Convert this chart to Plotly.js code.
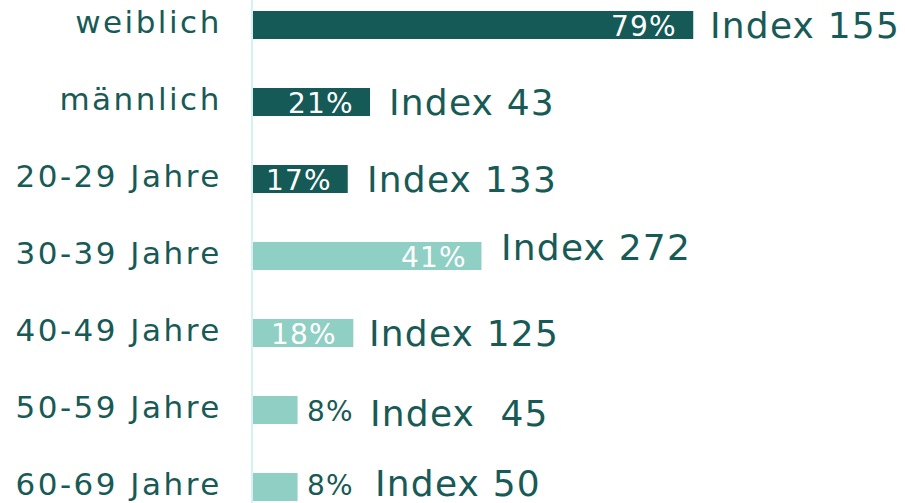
<!DOCTYPE html>
<html><head><meta charset="utf-8">
<script src="https://cdn.plot.ly/plotly-3.0.1.min.js"></script>
<style>
body{margin:0;background:#fff}#c{width:905px;height:503px}
.ytick text{letter-spacing:2.5px}
.annotation-text{letter-spacing:1.2px}
</style>
</head><body><div id="c"></div>
<script>
const categories = ["weiblich","männlich","20-29 Jahre","30-39 Jahre","40-49 Jahre","50-59 Jahre","60-69 Jahre"];
const shares = [79, 21, 17, 41, 18, 8, 8];
const indexValues = [155, 43, 133, 272, 125, 45, 50];
const indexLabels = ["Index 155","Index 43","Index 133","Index 272","Index 125","Index\u00a0 45","Index 50"];
const groups = ["gender","gender","age","age","age","age","age"];

const dark = "#165a57", light = "#90cfc4", textCol = "#175a56";
const barColors = [dark, dark, dark, light, light, light, light];
const FONT = "DejaVu Sans, sans-serif";
const pctShift = [-14, -14, -14, -12, -14, 7, 7];
const pctYShift = [-1, -1, -1, -1, -1, -1, 2];
const idxShift = [15, 17, 17, 18, 14, 70, 75];
const idxYShift = [0, 0, 0, 9, 0, -3, 4];

const annotations = [];
categories.forEach((c, i) => {
  const v = shares[i];
  const inside = v > 10;
  annotations.push({
    x: v, y: c, xref: "x", yref: "y", text: v + "%", showarrow: false,
    xanchor: inside ? "right" : "left", xshift: pctShift[i], yshift: pctYShift[i],
    font: {family: FONT, size: 28, color: inside ? "#ffffff" : textCol}
  });
  annotations.push({
    x: v, y: c, xref: "x", yref: "y", text: indexLabels[i], showarrow: false,
    xanchor: "left", xshift: idxShift[i], yshift: idxYShift[i],
    font: {family: FONT, size: 36, color: textCol}
  });
});

const trace = {
  type: "bar", orientation: "h", y: categories, x: shares,
  marker: {color: barColors}, width: 0.364, hoverinfo: "none"
};

const layout = {
  width: 905, height: 503,
  margin: {l: 253, r: 0, t: 0, b: 0},
  paper_bgcolor: "#fff", plot_bgcolor: "#fff",
  showlegend: false,
  xaxis: {range: [0, 117], visible: false, fixedrange: true},
  yaxis: {
    type: "category", range: [6.207, -0.325], showgrid: false, zeroline: false,
    showline: true, linecolor: "#d4f2f2", linewidth: 2,
    ticks: "", ticklabelstandoff: 23, ticklabelshift: 3,
    tickfont: {family: FONT, size: 31, color: textCol}
  },
  annotations: annotations
};
Plotly.newPlot("c", [trace], layout, {displayModeBar: false, staticPlot: true});
</script></body></html>
